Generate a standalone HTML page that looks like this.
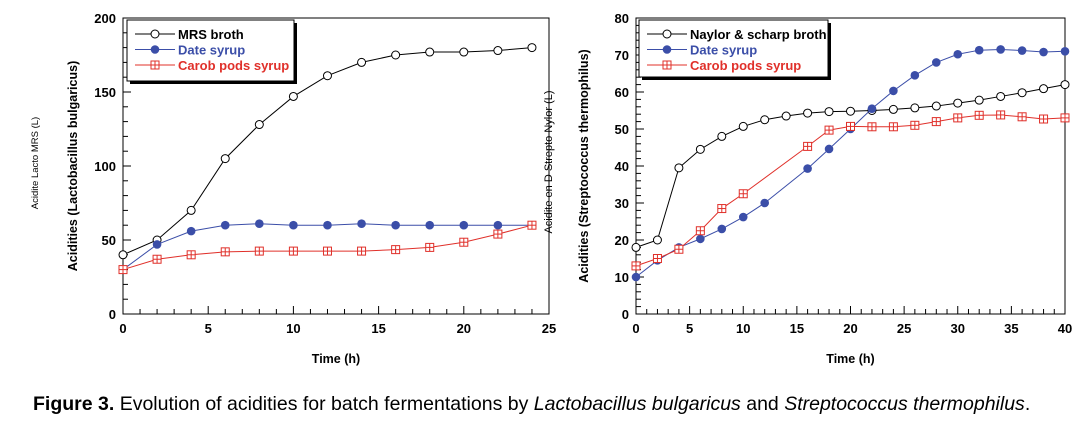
<!DOCTYPE html><html><head><style>body{margin:0;background:#fff}svg text{font-family:"Liberation Sans",Arial,sans-serif}</style></head><body>
<svg id="s" width="1082" height="424" xmlns="http://www.w3.org/2000/svg"></svg>
<script>
const s=document.getElementById('s');let h='';
function chart(o){
 const X=v=>o.x0+(v-o.xmin)/(o.xmax-o.xmin)*(o.x1-o.x0), Y=v=>o.y0-(v/o.ymax)*(o.y0-o.y1);
 h+=`<rect x="${o.x0}" y="${o.y1}" width="${o.x1-o.x0}" height="${o.y0-o.y1}" fill="none" stroke="#000" stroke-width="1"/>`;
 for(let v=0;v<=o.xmax;v+=o.xminor){const big=v%o.xstep==0;h+=`<line x1="${X(v)}" x2="${X(v)}" y1="${o.y0}" y2="${o.y0-(big?8:5)}" stroke="#000"/>`;
  if(big)h+=`<text x="${X(v)}" y="${o.y0+19}" font-size="13" font-weight="bold" text-anchor="middle">${v}</text>`;}
 for(let v=0;v<=o.ymax;v+=o.yminor){const big=v%o.ystep==0;h+=`<line x1="${o.x0}" x2="${o.x0+(big?8:5)}" y1="${Y(v)}" y2="${Y(v)}" stroke="#000"/>`;
  if(big)h+=`<text x="${o.x0-7}" y="${Y(v)+5}" font-size="13" font-weight="bold" text-anchor="end">${v}</text>`;}
 o.series.forEach(se=>{const pts=se.d.map(p=>X(p[0])+','+Y(p[1])).join(' ');
  h+=`<polyline points="${pts}" fill="none" stroke="${se.c}" stroke-width="1"/>`;
  se.d.forEach(p=>h+=mk(se.m,X(p[0]),Y(p[1]),se.c));});
 const L=o.leg;h+=`<rect x="${L[0]+3}" y="${L[1]+3}" width="${L[2]}" height="${L[3]}" fill="#000"/><rect x="${L[0]}" y="${L[1]}" width="${L[2]}" height="${L[3]}" fill="#fff" stroke="#000"/>`;
 o.series.forEach((se,i)=>{const yy=L[1]+14+i*15.5;h+=`<line x1="${L[0]+8}" x2="${L[0]+48}" y1="${yy}" y2="${yy}" stroke="${se.c}"/>`+mk(se.m,L[0]+28,yy,se.c)+`<text x="${L[0]+51}" y="${yy+5}" font-size="13" font-weight="bold" fill="${se.c}">${se.n}</text>`;});
 h+=`<text x="${(o.x0+o.x1)/2}" y="${o.y0+49}" font-size="12.5" font-weight="bold" text-anchor="middle">Time (h)</text>`;
 h+=`<text transform="translate(${o.ylx},${(o.y0+o.y1)/2}) rotate(-90)" font-size="12.5" font-weight="bold" text-anchor="middle">${o.yl}</text>`;
}
function mk(m,x,y,c){if(m=='o')return `<circle cx="${x}" cy="${y}" r="4" fill="#fff" stroke="${c}"/>`;
 if(m=='f')return `<circle cx="${x}" cy="${y}" r="4.3" fill="${c}"/>`;
 return `<rect x="${x-4}" y="${y-4}" width="8" height="8" fill="#fff" stroke="${c}"/><line x1="${x-4}" x2="${x+4}" y1="${y}" y2="${y}" stroke="${c}"/><line x1="${x}" x2="${x}" y1="${y-4}" y2="${y+4}" stroke="${c}"/>`;}
const K='#000',B='#3b4ea8',R='#e0302a';
const t=a=>a.map((v,i)=>[i*2,v]);
chart({x0:123,x1:549,y0:314,y1:18,xmin:0,xmax:25,xstep:5,xminor:1,ymax:200,ystep:50,yminor:10,leg:[127,20,167,61],ylx:77,yl:"Acidities (Lactobacillus bulgaricus)",
series:[{n:"MRS broth",c:K,m:'o',d:t([40,50,70,105,128,147,161,170,175,177,177,178,180])},
{n:"Date syrup",c:B,m:'f',d:t([30,47,56,60,61,60,60,61,60,60,60,60,60])},
{n:"Carob pods syrup",c:R,m:'s',d:t([30,37,40,42,42.5,42.5,42.5,42.5,43.5,45,48.5,54,60])}]});
chart({x0:636,x1:1065,y0:314,y1:18,xmin:0,xmax:40,xstep:5,xminor:1,ymax:80,ystep:10,yminor:2,leg:[639,20,189,57],ylx:588,yl:"Acidities (Streptococcus thermophilus)",
series:[{n:"Naylor &amp; scharp broth",c:K,m:'o',d:t([18,20,39.5,44.5,48,50.7,52.5,53.5,54.3,54.7,54.8,55,55.3,55.7,56.2,57,57.8,58.8,59.8,60.9,62])},
{n:"Date syrup",c:B,m:'f',d:[[0,10],[2,14.5],[4,18],[6,20.3],[8,23],[10,26.2],[12,30],[16,39.3],[18,44.6],[20,50],[22,55.5],[24,60.3],[26,64.5],[28,68],[30,70.2],[32,71.3],[34,71.5],[36,71.2],[38,70.8],[40,71]]},
{n:"Carob pods syrup",c:R,m:'s',d:[[0,13],[2,15],[4,17.5],[6,22.5],[8,28.5],[10,32.5],[16,45.3],[18,49.7],[20,50.7],[22,50.6],[24,50.6],[26,51],[28,52],[30,53],[32,53.7],[34,53.8],[36,53.3],[38,52.7],[40,53]]}]});
h+=`<text transform="translate(38,163) rotate(-90)" font-size="9.5" text-anchor="middle">Acidite Lacto MRS (L)</text>`;
h+=`<text transform="translate(552,162) rotate(-90)" font-size="11" text-anchor="middle">Acidite en D Strepto Nylor (L)</text>`;
h+=`<text x="33" y="410" font-size="19.5"><tspan font-weight="bold">Figure 3.</tspan> Evolution of acidities for batch fermentations by <tspan font-style="italic">Lactobacillus bulgaricus</tspan> and <tspan font-style="italic">Streptococcus thermophilus</tspan>.</text>`;
s.innerHTML=h;
</script></body></html>
